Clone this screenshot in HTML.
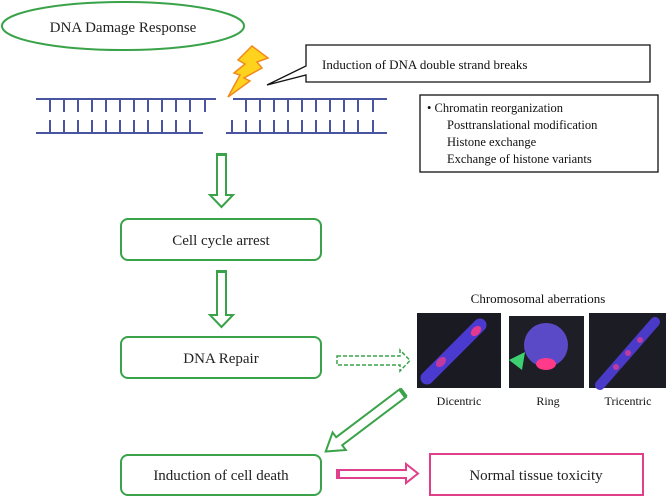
<!DOCTYPE html>
<html><head><meta charset="utf-8"><style>
html,body{margin:0;padding:0;background:#fff;}
svg{display:block;font-family:"Liberation Serif",serif;}
</style></head><body>
<svg width="666" height="497" viewBox="0 0 666 497" xmlns="http://www.w3.org/2000/svg">
<ellipse cx="123" cy="26" rx="121" ry="24" fill="#fff" stroke="#3aa34a" stroke-width="2"/>
<text x="123" y="32" font-size="15" text-anchor="middle" fill="#222">DNA Damage Response</text>
<polygon points="252,46 268,58 257,62 262,68 244,78 250,81 228,97 240,75 234,73 245,64 238,60" fill="#ffd21e" stroke="#f08a1c" stroke-width="1.5"/>
<path d="M306,45 H650 V82 H306 V75 L267,85 L306,66 Z" fill="#fff" stroke="#111" stroke-width="1.3"/>
<text x="322" y="69" font-size="13" fill="#111">Induction of DNA double strand breaks</text>
<g stroke="#4a55a2" stroke-width="2" fill="none">
<line x1="36" y1="99" x2="216" y2="99"/><line x1="233" y1="99" x2="387" y2="99"/>
<line x1="36" y1="133" x2="203" y2="133"/><line x1="226" y1="133" x2="387" y2="133"/>
<path d="M50,99v13M64,99v13M78,99v13M92,99v13M106,99v13M120,99v13M134,99v13M148,99v13M162,99v13M176,99v13M190,99v13M205,99v13"/>
<path d="M50,120v13M64,120v13M78,120v13M92,120v13M106,120v13M120,120v13M134,120v13M148,120v13M162,120v13M176,120v13M190,120v13"/>
<path d="M246,99v13M260,99v13M274,99v13M288,99v13M302,99v13M316,99v13M330,99v13M344,99v13M358,99v13M373,99v13"/>
<path d="M232,120v13M246,120v13M260,120v13M274,120v13M288,120v13M302,120v13M316,120v13M330,120v13M344,120v13M358,120v13M373,120v13"/>
</g>
<rect x="420" y="95" width="238" height="77" fill="#fff" stroke="#111" stroke-width="1.3"/>
<g font-size="12.5" fill="#111">
<text x="427" y="112">• Chromatin reorganization</text>
<text x="447" y="129">Posttranslational modification</text>
<text x="447" y="146">Histone exchange</text>
<text x="447" y="163">Exchange of histone variants</text>
</g>
<g fill="#fff" stroke="#3aa34a" stroke-width="2">
<path d="M217,154 H226 V195 H233 L221.5,207 L210,195 H217 Z"/>
<path d="M217,271 H226 V315 H233 L221.5,327 L210,315 H217 Z"/>
</g>
<rect x="217" y="153" width="9" height="3" fill="#3aa34a"/>
<rect x="217" y="270" width="9" height="3" fill="#3aa34a"/>
<g fill="#fff" stroke="#3aa34a" stroke-width="2">
<rect x="121" y="219" width="200" height="41" rx="7"/>
<rect x="121" y="337" width="200" height="41" rx="7"/>
<rect x="121" y="455" width="200" height="40" rx="7"/>
</g>
<g font-size="15" fill="#222" text-anchor="middle">
<text x="221" y="245">Cell cycle arrest</text>
<text x="221" y="363">DNA Repair</text>
<text x="221" y="480">Induction of cell death</text>
</g>
<path d="M337,356 H400 V350 L410,360.5 L400,371 V365 H337 Z" fill="#fff" stroke="#3aa34a" stroke-width="1.5" stroke-dasharray="4,2"/>
<text x="538" y="303" font-size="13" text-anchor="middle" fill="#111">Chromosomal  aberrations</text>
<rect x="417" y="313" width="84" height="75" fill="#1a1a22"/>
<rect x="509" y="316" width="75" height="72" fill="#1e1e26"/>
<rect x="589" y="313" width="77" height="75" fill="#1c1c24"/>
<g>
<line x1="427" y1="378" x2="480" y2="325" stroke="#4b3ad0" stroke-width="13" stroke-linecap="round"/>
<ellipse cx="476" cy="331" rx="6" ry="4" fill="#e33a8f" transform="rotate(-45 476 331)"/>
<ellipse cx="441" cy="362" rx="6" ry="4" fill="#c03aa0" transform="rotate(-45 441 362)"/>
<circle cx="546" cy="345" r="22" fill="#5a4ac8"/>
<ellipse cx="546" cy="364" rx="10" ry="6" fill="#ff3a8a"/>
<polygon points="509,360 525,352 522,370" fill="#3cd070"/>
<line x1="600" y1="385" x2="655" y2="322" stroke="#4a3ac8" stroke-width="10" stroke-linecap="round"/>
<circle cx="628" cy="353" r="3" fill="#c03aa0"/><circle cx="616" cy="367" r="3" fill="#c03aa0"/><circle cx="640" cy="340" r="3" fill="#c03aa0"/>
</g>
<g font-size="12" fill="#111" text-anchor="middle">
<text x="459" y="405">Dicentric</text>
<text x="548" y="405">Ring</text>
<text x="628" y="405">Tricentric</text>
</g>
<path d="M400,389 L336.2,437.2 L332.6,432.4 L325.7,451.5 L345.8,450 L342.2,445.2 L406,397 Z" fill="#fff" stroke="#3aa34a" stroke-width="2"/>
<line x1="400" y1="389" x2="406" y2="397" stroke="#3aa34a" stroke-width="4"/>
<path d="M337,470 H406 V464 L418,473.5 L406,483 V478 H337 Z" fill="#fff" stroke="#e0408a" stroke-width="2"/>
<rect x="336" y="470" width="4" height="8" fill="#e0408a"/>
<rect x="430" y="454" width="213" height="41" fill="#fff" stroke="#e0408a" stroke-width="2"/>
<text x="536" y="480" font-size="15" text-anchor="middle" fill="#222">Normal tissue toxicity</text>
</svg>
</body></html>
